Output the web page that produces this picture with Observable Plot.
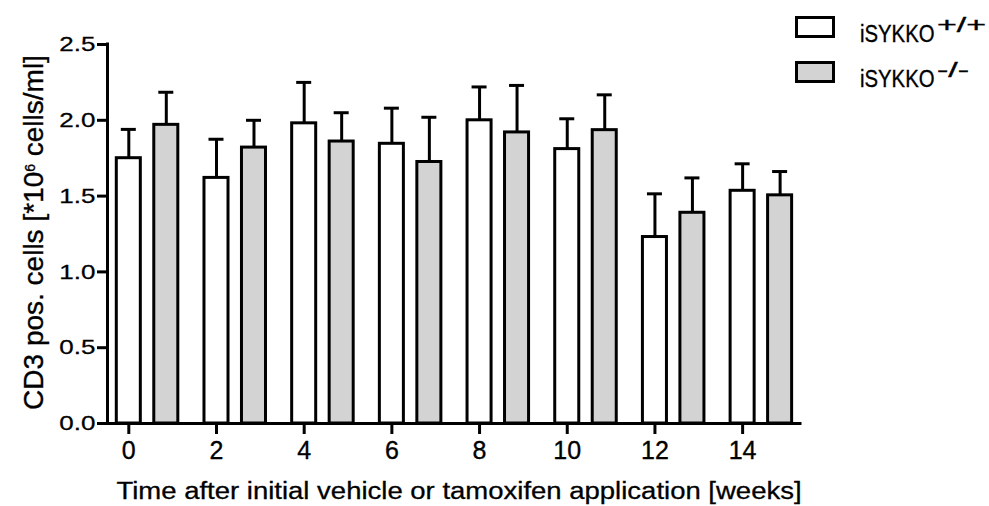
<!DOCTYPE html>
<html>
<head>
<meta charset="utf-8">
<script src="https://cdn.jsdelivr.net/npm/d3@7"></script>
<script src="https://cdn.jsdelivr.net/npm/@observablehq/plot@0.6"></script>
<style>
  html, body { margin: 0; padding: 0; background: #fff; }
  #chart svg { display: block; }
  #chart svg text { stroke: #000; stroke-width: 0.35px; }
</style>
</head>
<body>
<div id="chart"></div>
<script>
// ---- data ----
const weeks = [0, 2, 4, 6, 8, 10, 12, 14];
const wtMean = [1.75, 1.62, 1.98, 1.845, 2.00, 1.81, 1.23, 1.535];
const wtSem  = [0.19, 0.255, 0.27, 0.235, 0.22, 0.20, 0.285, 0.178];
const koMean = [1.97, 1.82, 1.86, 1.725, 1.92, 1.935, 1.39, 1.505];
const koSem  = [0.215, 0.18, 0.19, 0.295, 0.31, 0.233, 0.23, 0.157];
const seriesBase = ["iSYKKO", "iSYKKO"];
const seriesSup = ["+/+", "-/-"];
const seriesFill = ["#ffffff", "#d3d3d3"];
const yTicks = [0, 0.5, 1.0, 1.5, 2.0, 2.5];
const xTitle = "Time after initial vehicle or tamoxifen application [weeks]";
const yTitleParts = ["CD3 pos. cells [*10", "6", " cells/ml]"];

// ---- layout constants ----
const groupOffset = [0, 0.855];   // weeks offset of each series within a group
const barHalf = 0.274;            // half bar width in weeks
const capHalf = 0.171;            // half error-cap width in weeks
const xDomain = [-0.486, 15.32];
const FONT = "'Liberation Sans', Arial, sans-serif";

const rows = [];
weeks.forEach((w, i) => {
  rows.push({ week: w, s: 0, mean: wtMean[i], sem: wtSem[i] });
  rows.push({ week: w, s: 1, mean: koMean[i], sem: koSem[i] });
});
const xc = d => d.week + groupOffset[d.s];

const plot = Plot.plot({
  width: 989,
  height: 506,
  marginLeft: 107,
  marginRight: 189,
  marginTop: 44,
  marginBottom: 83,
  style: { fontFamily: FONT, fontSize: "24px", color: "#000", background: "#fff" },
  x: { type: "linear", domain: xDomain },
  y: { domain: [0, 2.5] },
  marks: [
    Plot.axisX({ ticks: weeks, tickSize: 11, tickPadding: 7, tickFormat: d => String(d), strokeWidth: 3, label: null }),
    Plot.axisY({ ticks: yTicks, tickSize: 10, tickPadding: 2, tickFormat: d3.format(".1f"), strokeWidth: 3, label: null }),
    Plot.ruleX(rows, { x: xc, y1: d => d.mean, y2: d => d.mean + d.sem, stroke: "#000", strokeWidth: 3 }),
    Plot.ruleY(rows, { y: d => d.mean + d.sem, x1: d => xc(d) - capHalf, x2: d => xc(d) + capHalf, stroke: "#000", strokeWidth: 3 }),
    Plot.rectY(rows, { x1: d => xc(d) - barHalf, x2: d => xc(d) + barHalf, y1: 0, y2: d => d.mean, fill: d => seriesFill[d.s], stroke: "#000", strokeWidth: 3 }),
    Plot.ruleX([xDomain[0]], { y1: 0, y2: 2.5, stroke: "#000", strokeWidth: 3, strokeLinecap: "square" }),
    Plot.ruleY([0], { stroke: "#000", strokeWidth: 3, strokeLinecap: "square" })
  ]
});
document.getElementById("chart").appendChild(plot);

const svg = d3.select(plot);
// x tick labels
svg.selectAll('g[aria-label="x-axis tick label"] text')
  .attr("font-size", 25).style("font-size", "25px").style("font-family", FONT);
// y tick labels: larger, slightly squashed vertically
svg.selectAll('g[aria-label="y-axis tick label"] text')
  .attr("font-size", 26).style("font-size", "26px").style("font-family", FONT)
  .each(function () {
    const t = this.getAttribute("transform");
    if (t) this.setAttribute("transform", t + " scale(1,0.8)");
  });

// x axis title
svg.append("text")
  .attr("transform", "translate(459,499.3) scale(1,0.85)")
  .attr("text-anchor", "middle")
  .style("font-size", "27.5px").style("font-family", FONT)
  .attr("fill", "#000")
  .text(xTitle);

// y axis title with superscript
const yt = svg.append("text")
  .attr("transform", "translate(43,232.5) rotate(-90)")
  .attr("text-anchor", "middle")
  .style("font-size", "28px").style("font-family", FONT)
  .attr("fill", "#000");
yt.append("tspan").text(yTitleParts[0]);
yt.append("tspan").style("font-size", "14px").attr("dy", -8).text(yTitleParts[1]);
yt.append("tspan").attr("dy", 8).text(yTitleParts[2]);

// legend
const rowGap = 45;
const lg = svg.append("g").attr("aria-label", "legend").attr("text-anchor", "start");
seriesBase.forEach((name, i) => {
  lg.append("rect")
    .attr("x", 796.5).attr("y", 17.5 + i * rowGap)
    .attr("width", 37).attr("height", 19)
    .attr("fill", seriesFill[i]).attr("stroke", "#000").attr("stroke-width", 3);
  lg.append("text")
    .attr("text-anchor", "start")
    .attr("transform", `translate(860,${41.7 + i * rowGap}) scale(0.83,1)`)
    .style("font-size", "24.5px").style("font-family", FONT)
    .attr("fill", "#000")
    .text(name);
  lg.append("text")
    .attr("text-anchor", "start")
    .attr("transform", `translate(937,${31.6 + i * rowGap}) scale(1.7,1)`)
    .style("font-size", "20px").style("font-family", FONT)
    .attr("fill", "#000")
    .text(seriesSup[i]);
});
</script>
</body>
</html>
